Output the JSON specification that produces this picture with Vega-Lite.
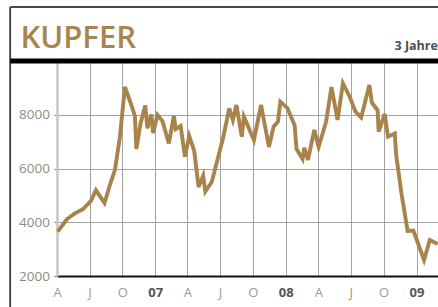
{
  "$schema": "https://vega.github.io/schema/vega-lite/v6.json",
  "width": 381,
  "height": 215,
  "autosize": {"type": "none"},
  "padding": {"left": 57, "top": 61, "right": 0, "bottom": 31},
  "background": "white",
  "title": {
    "text": "KUPFER",
    "anchor": "start",
    "frame": "group",
    "offset": -49,
    "dx": -36.5,
    "fontSize": 31,
    "font": "Open Sans",
    "fontWeight": 600,
    "color": "#a8854e"
  },
  "config": {"view": {"stroke": null}, "font": "Open Sans"},
  "layer": [
    {
      "data": {"values": [{}]},
      "mark": {"type": "rule", "color": "#4a4a4a", "strokeWidth": 1.8},
      "encoding": {
        "x": {"datum": {"year": 2005, "month": 11, "date": 21, "utc": true}, "type": "temporal",
              "scale": {"type": "utc", "domain": [{"year": 2006, "month": 4, "date": 1, "utc": true}, {"year": 2009, "month": 3, "date": 2, "utc": true}], "nice": false}},
        "x2": {"datum": {"year": 2009, "month": 8, "date": 1, "utc": true}},
        "y": {"datum": 12010, "type": "quantitative", "scale": {"domain": [2000, 10000], "nice": false, "zero": false}}
      }
    },
    {
      "data": {"values": [{}]},
      "mark": {"type": "rule", "color": "#3a3a3a", "strokeWidth": 1.8},
      "encoding": {
        "x": {"datum": {"year": 2005, "month": 11, "date": 21, "utc": true}, "type": "temporal",
              "scale": {"type": "utc", "domain": [{"year": 2006, "month": 4, "date": 1, "utc": true}, {"year": 2009, "month": 3, "date": 2, "utc": true}], "nice": false}},
        "y": {"datum": 12010, "type": "quantitative", "scale": {"domain": [2000, 10000], "nice": false, "zero": false}},
        "y2": {"datum": 0}
      }
    },
    {
      "data": {"values": [{}]},
      "mark": {"type": "rule", "color": "#000000", "strokeWidth": 5},
      "encoding": {
        "x": {"datum": {"year": 2005, "month": 11, "date": 21, "utc": true}, "type": "temporal",
              "scale": {"type": "utc", "domain": [{"year": 2006, "month": 4, "date": 1, "utc": true}, {"year": 2009, "month": 3, "date": 2, "utc": true}], "nice": false}},
        "x2": {"datum": {"year": 2009, "month": 8, "date": 1, "utc": true}},
        "y": {"datum": 10000, "type": "quantitative", "scale": {"domain": [2000, 10000], "nice": false, "zero": false}}
      }
    },
    {
      "data": {
        "values": [
          {"date": "2006-04-03", "price": 3650},
          {"date": "2006-04-29", "price": 4120},
          {"date": "2006-05-21", "price": 4333},
          {"date": "2006-06-12", "price": 4482},
          {"date": "2006-07-05", "price": 4791},
          {"date": "2006-07-19", "price": 5189},
          {"date": "2006-08-12", "price": 4716},
          {"date": "2006-08-27", "price": 5386},
          {"date": "2006-09-10", "price": 5944},
          {"date": "2006-09-24", "price": 7172},
          {"date": "2006-10-08", "price": 9032},
          {"date": "2006-10-25", "price": 8400},
          {"date": "2006-11-05", "price": 7954},
          {"date": "2006-11-09", "price": 6726},
          {"date": "2006-11-21", "price": 7693},
          {"date": "2006-12-04", "price": 8344},
          {"date": "2006-12-10", "price": 7496},
          {"date": "2006-12-21", "price": 8009},
          {"date": "2006-12-26", "price": 7321},
          {"date": "2007-01-07", "price": 7991},
          {"date": "2007-01-21", "price": 7768},
          {"date": "2007-02-08", "price": 6930},
          {"date": "2007-02-22", "price": 7972},
          {"date": "2007-02-27", "price": 7470},
          {"date": "2007-03-13", "price": 7582},
          {"date": "2007-03-25", "price": 6439},
          {"date": "2007-04-06", "price": 7209},
          {"date": "2007-04-20", "price": 6651},
          {"date": "2007-05-02", "price": 5312},
          {"date": "2007-05-15", "price": 5740},
          {"date": "2007-05-21", "price": 5144},
          {"date": "2007-06-08", "price": 5498},
          {"date": "2007-06-26", "price": 6428},
          {"date": "2007-07-10", "price": 7154},
          {"date": "2007-07-27", "price": 8240},
          {"date": "2007-08-06", "price": 7805},
          {"date": "2007-08-16", "price": 8363},
          {"date": "2007-08-31", "price": 7183},
          {"date": "2007-09-06", "price": 7928},
          {"date": "2007-10-04", "price": 7061},
          {"date": "2007-10-24", "price": 8363},
          {"date": "2007-11-15", "price": 6800},
          {"date": "2007-11-28", "price": 7555},
          {"date": "2007-12-10", "price": 7742},
          {"date": "2007-12-17", "price": 8486},
          {"date": "2008-01-06", "price": 8240},
          {"date": "2008-01-26", "price": 7600},
          {"date": "2008-01-31", "price": 6726},
          {"date": "2008-02-17", "price": 6354},
          {"date": "2008-02-22", "price": 6774},
          {"date": "2008-03-03", "price": 6316},
          {"date": "2008-03-21", "price": 7433},
          {"date": "2008-04-02", "price": 6800},
          {"date": "2008-04-23", "price": 7742},
          {"date": "2008-05-08", "price": 9032},
          {"date": "2008-05-25", "price": 7805},
          {"date": "2008-06-09", "price": 9170},
          {"date": "2008-06-28", "price": 8672},
          {"date": "2008-07-14", "price": 8114},
          {"date": "2008-07-30", "price": 7898},
          {"date": "2008-08-22", "price": 9107},
          {"date": "2008-08-29", "price": 8449},
          {"date": "2008-09-14", "price": 8166},
          {"date": "2008-09-17", "price": 7369},
          {"date": "2008-10-04", "price": 8028},
          {"date": "2008-10-13", "price": 7183},
          {"date": "2008-11-01", "price": 7302},
          {"date": "2008-11-05", "price": 6502},
          {"date": "2008-11-20", "price": 5051},
          {"date": "2008-12-07", "price": 3674},
          {"date": "2008-12-23", "price": 3693},
          {"date": "2009-01-22", "price": 2595},
          {"date": "2009-02-07", "price": 3340},
          {"date": "2009-03-01", "price": 3191}
        ]
      },
      "mark": {"type": "line", "color": "#a8844c", "strokeWidth": 3.9},
      "encoding": {
        "x": {
          "field": "date",
          "type": "temporal",
          "scale": {"type": "utc", "domain": [{"year": 2006, "month": 4, "date": 1, "utc": true}, {"year": 2009, "month": 3, "date": 2, "utc": true}], "nice": false},
          "axis": {
            "title": null,
            "tickCount": 40,
            "values": [
              {"year": 2006, "month": 4, "date": 1, "utc": true},
              {"year": 2006, "month": 7, "date": 1, "utc": true},
              {"year": 2006, "month": 10, "date": 1, "utc": true},
              {"year": 2007, "month": 1, "date": 1, "utc": true},
              {"year": 2007, "month": 4, "date": 1, "utc": true},
              {"year": 2007, "month": 7, "date": 1, "utc": true},
              {"year": 2007, "month": 10, "date": 1, "utc": true},
              {"year": 2008, "month": 1, "date": 1, "utc": true},
              {"year": 2008, "month": 4, "date": 1, "utc": true},
              {"year": 2008, "month": 7, "date": 1, "utc": true},
              {"year": 2008, "month": 10, "date": 1, "utc": true},
              {"year": 2009, "month": 1, "date": 1, "utc": true}
            ],
            "labelExpr": "utcmonth(datum.value) == 0 ? utcFormat(datum.value, '%y') : utcmonth(datum.value) == 3 ? 'A' : utcmonth(datum.value) == 6 ? 'J' : 'O'",
            "grid": true,
            "gridColor": "#a3a3a3",
            "gridWidth": 1,
            "ticks": false,
            "domainColor": "#111111",
            "domainWidth": 2,
            "labelPadding": 10,
            "labelFontSize": 13,
            "labelFont": "Open Sans",
            "labelFlush": false,
            "labelOverlap": false,
            "labelColor": {"condition": {"test": "utcmonth(datum.value) == 0", "value": "#555555"}, "value": "#9a9a9a"},
            "labelFontWeight": {"condition": {"test": "utcmonth(datum.value) == 0", "value": "bold"}, "value": "normal"}
          }
        },
        "y": {
          "field": "price",
          "type": "quantitative",
          "scale": {"domain": [2000, 10000], "nice": false, "zero": false},
          "axis": {
            "title": "3 Jahre",
            "titleX": 337,
            "titleY": -11.7,
            "titleAngle": 0,
            "titleAlign": "left",
            "titleBaseline": "alphabetic",
            "titleFontSize": 12.5,
            "titleFontWeight": "bold",
            "titleColor": "#4d4d4d",
            "titleFont": "Open Sans",
            "values": [2000, 4000, 6000, 8000],
            "tickCount": 10,
            "format": "d",
            "grid": true,
            "gridColor": "#a3a3a3",
            "gridWidth": 1,
            "domainColor": "#c6c6cc",
            "domainWidth": 2.5,
            "tickSize": 3,
            "tickColor": "#777777",
            "labelPadding": 4.5,
            "labelFontSize": 13.5,
            "labelFont": "Open Sans",
            "labelColor": "#8c8c8c"
          }
        }
      }
    }
  ]
}
